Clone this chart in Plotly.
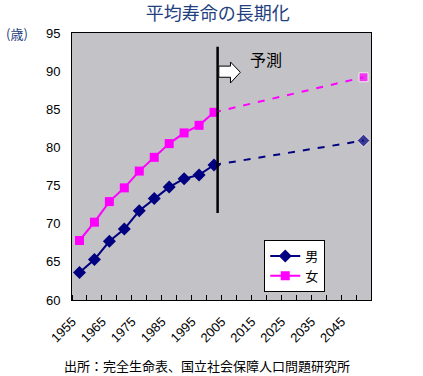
import plotly.graph_objects as go

years = [1955, 1960, 1965, 1970, 1975, 1980, 1985, 1990, 1995, 2000]
male = [63.6, 65.3, 67.7, 69.3, 71.7, 73.3, 74.8, 75.9, 76.4, 77.7]
female = [67.8, 70.2, 72.9, 74.7, 76.9, 78.7, 80.5, 81.9, 82.9, 84.6]
proj_years = [2000, 2050]
male_proj = [77.7, 80.9]
female_proj = [84.6, 89.2]
tick_labels = ["1955", "1965", "1975", "1985", "1995", "2005", "2015", "2025", "2035", "2045"]
tick_years = [1955, 1965, 1975, 1985, 1995, 2005, 2015, 2025, 2035, 2045]
LABEL_SHIFT = 2.4  # rotated labels end slightly left of category centre

NAVY = "#000080"
MAG = "#FF00FF"
JP = "Noto Sans CJK JP"
NUM = "Liberation Sans"

fig = go.Figure()
fig.add_trace(go.Scatter(x=proj_years, y=male_proj, mode="lines+markers",
                         line=dict(color=NAVY, width=2, dash="7px,8px"),
                         marker=dict(symbol="diamond", size=[0, 10], color=NAVY),
                         showlegend=False, hoverinfo="skip"))
fig.add_trace(go.Scatter(x=proj_years, y=female_proj, mode="lines+markers",
                         line=dict(color=MAG, width=2, dash="7px,8px"),
                         marker=dict(symbol="square", size=[0, 9], color=MAG),
                         showlegend=False, hoverinfo="skip"))
fig.add_trace(go.Scatter(x=years, y=male, mode="lines+markers", name="男",
                         line=dict(color=NAVY, width=2),
                         marker=dict(symbol="diamond", size=10, color=NAVY)))
fig.add_trace(go.Scatter(x=years, y=female, mode="lines+markers", name="女",
                         line=dict(color=MAG, width=2),
                         marker=dict(symbol="square", size=9, color=MAG)))

# vertical divider
fig.add_shape(type="line", x0=2001.2, x1=2001.2, y0=71.4, y1=93.2,
              line=dict(color="black", width=2.5), layer="above")
# block arrow
fig.add_shape(type="path",
              path="M 2001.6 90.66 L 2005.5 90.66 L 2005.5 91.2 L 2008.8 89.85 L 2005.5 88.45 L 2005.5 89.2 L 2001.6 89.2 Z",
              fillcolor="white", line=dict(color="black", width=1), layer="above")
fig.add_annotation(x=2017.5, y=91.6, text="予測", showarrow=False,
                   font=dict(family=JP, size=16, color="black"))

fig.add_annotation(xref="paper", yref="paper", x=-0.184, y=1.0, xanchor="center",
                   yanchor="middle", text="(歳)", showarrow=False,
                   font=dict(family=JP, size=13, color="#1F3F7F"))
fig.add_annotation(xref="paper", yref="paper", x=0.45, y=-0.245, xanchor="center",
                   yanchor="middle", text="出所：完全生命表、国立社会保障人口問題研究所",
                   showarrow=False, font=dict(family=JP, size=13, color="black"))

fig.update_layout(
    width=423, height=376,
    margin=dict(l=72, r=52, t=33, b=76, autoexpand=False),
    paper_bgcolor="white",
    plot_bgcolor="#C3C2C6",
    title=dict(text="平均寿命の長期化", x=0.515, xanchor="center", y=0.964, yanchor="middle",
               font=dict(family=JP, size=18, color="#1F3F7F")),
    showlegend=True,
    legend=dict(x=0.643, y=0.225, xanchor="left", yanchor="top",
                bgcolor="white", bordercolor="black", borderwidth=1,
                font=dict(family=JP, size=13, color="black"),
                itemwidth=30, tracegroupgap=0),
    xaxis=dict(range=[1952.5, 2052.5], tickvals=[y - LABEL_SHIFT for y in tick_years],
               ticktext=tick_labels, automargin=False,
               tickangle=-45, ticks="", showgrid=False, zeroline=False,
               showline=True, linecolor="black", linewidth=1, mirror=True,
               ticklabelstandoff=8,
               tickfont=dict(family=NUM, size=13, color="black"),
               minor=dict(ticks="inside", tick0=1952.5, dtick=5, ticklen=5,
                          tickcolor="black", showgrid=False)),
    yaxis=dict(range=[60, 95], dtick=5, ticks="", showgrid=False, zeroline=False,
               automargin=False,
               showline=True, linecolor="black", linewidth=1, mirror=True,
               tickfont=dict(family=NUM, size=13, color="black"),
               ticklabelstandoff=8),
)

fig.write_html("out.html", config={"displayModeBar": False},
               post_script="document.body.style.margin='0';")
